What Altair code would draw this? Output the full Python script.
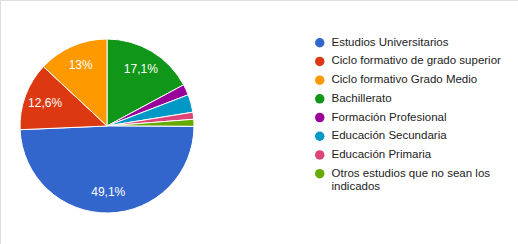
import altair as alt
import pandas as pd

# Pie order: clockwise from 12 o'clock
pie_names = [
    "Bachillerato",
    "Formación Profesional",
    "Educación Secundaria",
    "Educación Primaria",
    "Otros estudios que no sean los indicados",
    "Estudios Universitarios",
    "Ciclo formativo de grado superior",
    "Ciclo formativo Grado Medio",
]
pie_values = [17.1, 2.0, 3.3, 1.3, 1.3, 49.1, 12.6, 13.0]
pie_labels = ["17,1%", "", "", "", "", "49,1%", "12,6%", "13%"]

legend_order = [
    "Estudios Universitarios",
    "Ciclo formativo de grado superior",
    "Ciclo formativo Grado Medio",
    "Bachillerato",
    "Formación Profesional",
    "Educación Secundaria",
    "Educación Primaria",
    "Otros estudios que no sean los indicados",
]
colors = ["#3366cc", "#dc3912", "#ff9900", "#109618",
          "#990099", "#0099c6", "#dd4477", "#66aa00"]

df = pd.DataFrame({
    "name": pie_names,
    "value": pie_values,
    "label": pie_labels,
    "ord": list(range(len(pie_names))),
})

FONT = "Liberation Sans"

base = alt.Chart(df).encode(
    theta=alt.Theta("value:Q", stack=True),
    order=alt.Order("ord:Q"),
    x=alt.value(107),
    y=alt.value(126),
)

arcs = base.mark_arc(outerRadius=87, stroke="white", strokeWidth=1).encode(
    color=alt.Color(
        "name:N",
        scale=alt.Scale(domain=legend_order, range=colors),
        legend=alt.Legend(
            title=None,
            orient="none",
            legendX=314,
            legendY=37,
            symbolType="circle",
            symbolSize=90,
            symbolStrokeWidth=0,
            labelFont=FONT,
            labelFontSize=11.5,
            labelColor="#222222",
            labelOffset=6,
            labelLimit=300,
            rowPadding=5.7,
            labelExpr="datum.label == 'Otros estudios que no sean los indicados' ? ['Otros estudios que no sean los', 'indicados'] : datum.label",
        ),
    )
)

texts = base.mark_text(radius=66, font=FONT, fontSize=12, color="white").encode(
    text="label:N"
)

chart = (arcs + texts).properties(
    width=518, height=244,
    autosize=alt.AutoSizeParams(type="none"),
    padding=0,
).configure_view(stroke=None).configure(background="white")

chart.save("out.html", embed_options={"renderer": "svg", "actions": False})
